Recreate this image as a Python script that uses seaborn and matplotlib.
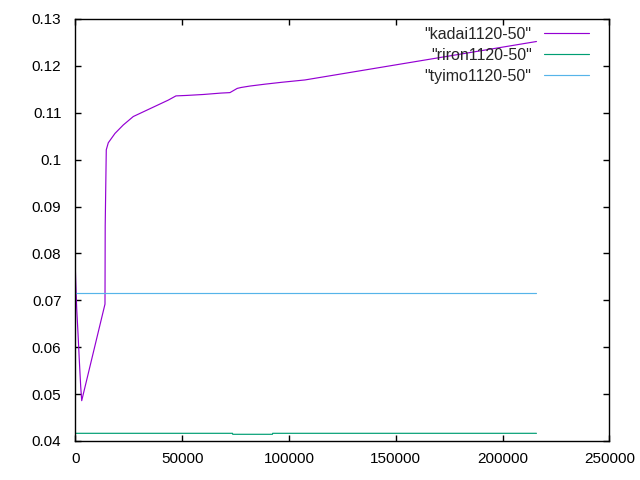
import matplotlib
matplotlib.use("Agg")
import matplotlib.pyplot as plt
import seaborn as sns
import pandas as pd

# kadai1120-50
kadai_x = [0, 200, 650, 1260, 1870, 2530, 3000, 13900, 14000, 14500, 15440, 18580,
           22460, 27140, 43520, 47120, 52130, 59900, 68180, 72390, 75810, 77680,
           81750, 88770, 96580, 107490, 215900]
kadai_y = [0.0770, 0.0740, 0.0683, 0.0630, 0.0573, 0.0516, 0.0486, 0.0692, 0.0859,
           0.1021, 0.1036, 0.1056, 0.1074, 0.1092, 0.1127, 0.1136, 0.1137, 0.1139,
           0.1142, 0.1143, 0.1152, 0.1154, 0.1157, 0.1161, 0.1165, 0.1170, 0.1252]

# riron1120-50
riron_x = [0, 73600, 73700, 92300, 92400, 215900]
riron_y = [0.04164, 0.04164, 0.04143, 0.04143, 0.04164, 0.04164]

# tyimo1120-50
tyimo_x = [0, 215900]
tyimo_y = [0.0715, 0.0715]

names = ['"kadai1120-50"', '"riron1120-50"', '"tyimo1120-50"']
colors = ["#9400D3", "#009E73", "#56B4E9"]

sns.set_style("ticks")
plt.rcParams["font.family"] = ["Liberation Sans", "DejaVu Sans"]

fig = plt.figure(figsize=(6.4, 4.8), dpi=100)
ax = fig.add_axes([75.3 / 640, 39 / 480, 534 / 640, 422 / 480])

series = [(kadai_x, kadai_y), (riron_x, riron_y), (tyimo_x, tyimo_y)]
for (xs, ys), name, c in zip(series, names, colors):
    df = pd.DataFrame({"x": xs, "y": ys})
    sns.lineplot(data=df, x="x", y="y", ax=ax, color=c, lw=0.85,
                 sort=False, estimator=None, label=name)

ax.set_xlim(0, 250000)
ax.set_ylim(0.04, 0.13)
ax.set_xticks([0, 50000, 100000, 150000, 200000, 250000])
ax.set_yticks([0.04, 0.05, 0.06, 0.07, 0.08, 0.09, 0.1, 0.11, 0.12, 0.13])
ax.set_yticklabels(["0.04", "0.05", "0.06", "0.07", "0.08", "0.09", "0.1",
                    "0.11", "0.12", "0.13"])
ax.set_xlabel("")
ax.set_ylabel("")
ax.tick_params(direction="in", length=4.5, width=1, top=True, right=True,
               labelsize=11, colors="black")
ax.tick_params(axis="y", pad=10)
ax.tick_params(axis="x", pad=8)
for s in ax.spines.values():
    s.set_linewidth(1)
    s.set_color("black")

leg = ax.legend(loc="upper right", bbox_to_anchor=(0.962, 0.981), frameon=False,
                markerfirst=False, fontsize=11.5, handlelength=2.8,
                handletextpad=0.8, labelspacing=0.36,
                borderaxespad=0, borderpad=0)

fig.savefig("out.png", dpi=100)
